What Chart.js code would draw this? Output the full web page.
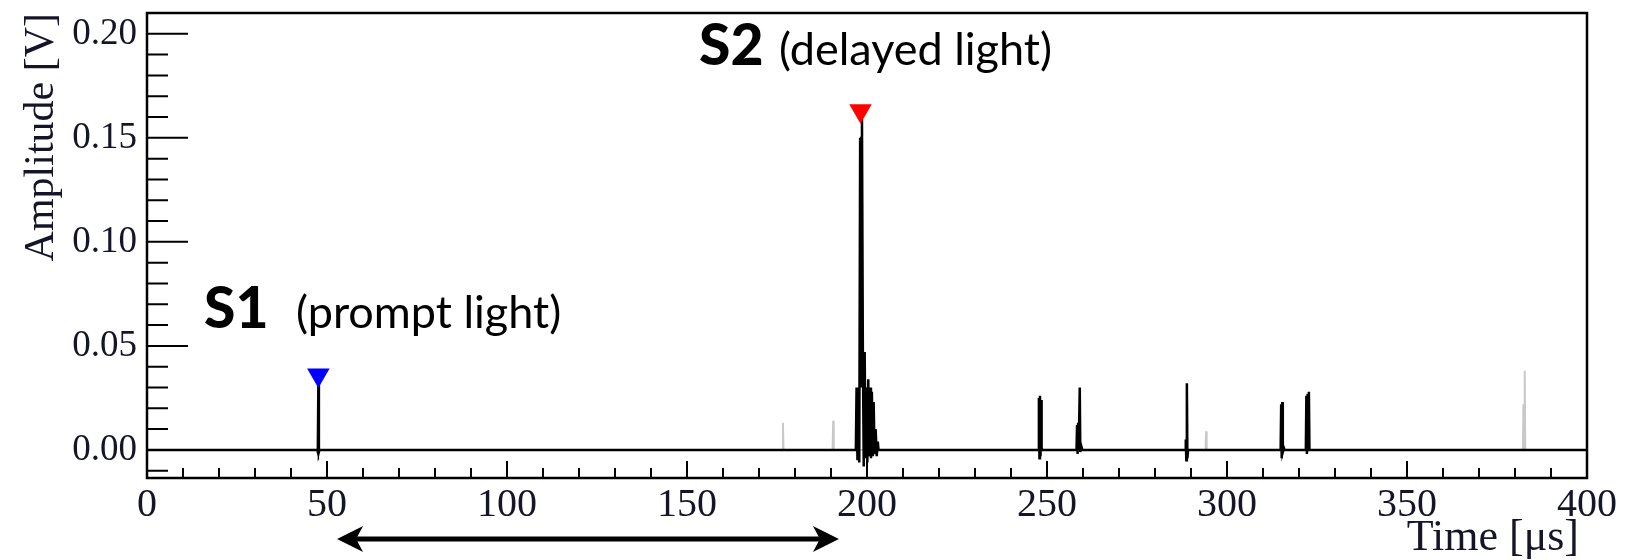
<!DOCTYPE html>
<html>
<head>
<meta charset="utf-8">
<script src="https://cdn.jsdelivr.net/npm/chart.js@4.4.1/dist/chart.umd.min.js"></script>
<style>
    html, body { margin: 0; padding: 0; background: #fff; }
</style>
</head>
<body>
<canvas id="chartPulso" width="1640" height="560"></canvas>
<script>
// Waveform (black): time in µs, amplitude in V
const tiempoNegro = [
    0,
    47.3, 47.45, 47.6, 47.75, 47.9,
    196.9, 197.1, 197.35, 197.6, 197.85, 198.1, 198.3, 198.45, 198.6, 198.85, 199.1, 199.35, 199.6,
    199.85, 200.1, 200.35, 200.6, 200.85, 201.1, 201.35, 201.6, 201.85, 202.1, 202.4, 202.7, 203.0, 203.2,
    247.6, 247.75, 247.9, 248.05, 248.2, 248.35, 248.5, 248.7,
    258.2, 258.35, 258.5, 258.65, 258.8, 259.1, 259.25, 259.5, 259.8,
    288.4, 288.55, 288.7, 288.85, 289.0, 289.2,
    314.9, 315.05, 315.2, 315.35, 315.5, 315.8, 316.0,
    321.9, 322.05, 322.2, 322.4, 322.6, 322.75, 322.9,
    400
];
const amplitudNegro = [
    0,
    0, -0.001, 0.032, -0.001, 0,
    0, 0.030, -0.005, 0.030, -0.006, 0.150, 0.030, 0.150, 0.159, 0.047, -0.008, 0.047, -0.004,
    0.030, -0.006, 0.034, -0.003, 0.030, -0.004, 0.028, -0.003, 0.023, -0.002, 0.010, -0.003, 0.004, 0,
    0, 0.025, -0.004, 0.026, -0.003, 0.024, 0.001, 0,
    0, 0.012, -0.002, 0.013, 0, 0.030, -0.001, 0.002, 0,
    0, 0.005, -0.005, 0.032, -0.004, 0,
    0, 0.022, -0.004, 0.023, -0.001, 0.001, 0,
    0, 0.026, -0.002, 0.027, 0, 0.028, 0,
    0
];

// Pulses outside the window (grey)
const tiempoGris = [176.5, 176.65, 176.8, 190.45, 190.6, 190.75, 294.05, 294.2, 294.35, 382.2, 382.35, 382.5, 382.7, 382.85];
const amplitudGris = [0, 0.013, 0, 0, 0.014, 0, 0, 0.009, 0, 0, 0.022, 0.001, 0.038, 0];

// S1 / S2 markers
const tiempoMarca = [47.6, 198.2];
const amplitudMarca = [0.036, 0.163];
const colorMarca = ['#0000ff', '#ff0000'];

// Axes
const rangoX = [0, 400];
const rangoY = [-0.0135, 0.21];
const pasoX = 10, mayorX = 50;
const pasoY = 0.01, mayorY = 0.05;

// Drift arrow (S1 -> S2), in µs
const flechaDesde = 52.8;
const flechaHasta = 192.2;

const esMayor = (v, m) => Math.abs(v / m - Math.round(v / m)) < 1e-6;
const aPuntos = (xs, ys) => xs.map((t, i) => ({ x: t, y: ys[i] }));

// Frame, inward ticks, S1/S2 labels, x title and the arrow
const marcoPlugin = {
    id: 'marcoPlugin',
    afterDraw(chart) {
        const { ctx, chartArea: a, scales: { x, y } } = chart;
        ctx.save();
        ctx.strokeStyle = '#000';
        ctx.lineWidth = 2;
        ctx.beginPath();
        x.ticks.forEach(t => {
            const px = x.getPixelForValue(t.value);
            const len = esMayor(t.value, mayorX) ? 17 : 10;
            ctx.moveTo(px, a.bottom);
            ctx.lineTo(px, a.bottom - len);
        });
        y.ticks.forEach(t => {
            const py = y.getPixelForValue(t.value);
            const len = esMayor(t.value, mayorY) ? 41 : 21;
            ctx.moveTo(a.left, py);
            ctx.lineTo(a.left + len, py);
        });
        ctx.stroke();
        ctx.lineWidth = 2.5;
        ctx.strokeRect(a.left, a.top, a.right - a.left, a.bottom - a.top);

        // x axis title
        ctx.fillStyle = '#15152a';
        ctx.textBaseline = 'alphabetic';
        ctx.textAlign = 'right';
        ctx.font = '44px "Liberation Serif"';
        ctx.fillText('Time [μs]', a.right - 8, 550);

        // S1 / S2 labels
        ctx.fillStyle = '#000';
        ctx.textAlign = 'left';
        ctx.font = '900 57px Lato';
        ctx.fillText('S1', 204, 328);
        ctx.fillText('S2', 699, 65);
        ctx.font = '45px Lato';
        ctx.fillText('(prompt light)', 296, 328);
        ctx.fillText('(delayed light)', 779, 65);

        // double arrow
        const x1 = x.getPixelForValue(flechaDesde);
        const x2 = x.getPixelForValue(flechaHasta);
        const ya = 539;
        ctx.lineWidth = 5;
        ctx.beginPath();
        ctx.moveTo(x1 + 15, ya);
        ctx.lineTo(x2 - 15, ya);
        ctx.stroke();
        [[x1, 1], [x2, -1]].forEach(([tip, d]) => {
            ctx.beginPath();
            ctx.moveTo(tip, ya);
            ctx.lineTo(tip + d * 26, ya - 13);
            ctx.lineTo(tip + d * 19, ya);
            ctx.lineTo(tip + d * 26, ya + 13);
            ctx.closePath();
            ctx.fill();
        });
        ctx.restore();
    }
};

new Chart(document.getElementById('chartPulso'), {
    type: 'scatter',
    data: {
        datasets: [
            {
                label: 'S1/S2',
                data: aPuntos(tiempoMarca, amplitudMarca),
                pointStyle: 'triangle',
                pointRotation: 180,
                pointRadius: 13,
                pointBackgroundColor: colorMarca,
                pointBorderWidth: 0,
                order: 0
            },
            {
                label: 'Waveform',
                data: aPuntos(tiempoNegro, amplitudNegro),
                showLine: true,
                borderColor: '#000',
                borderWidth: 2.5,
                pointRadius: 0,
                order: 1
            },
            {
                label: 'Outside',
                data: aPuntos(tiempoGris, amplitudGris),
                showLine: true,
                borderColor: '#c8c8c8',
                borderWidth: 2,
                pointRadius: 0,
                order: 2
            }
        ]
    },
    options: {
        responsive: false,
        animation: false,
        events: [],
        layout: { padding: { top: 13, right: 53, left: 0, bottom: 0 } },
        plugins: { legend: { display: false }, tooltip: { enabled: false } },
        scales: {
            x: {
                type: 'linear',
                min: rangoX[0],
                max: rangoX[1],
                afterFit: s => { s.height = 82; s.paddingLeft = 0; s.paddingRight = 0; },
                grid: { display: false, drawTicks: false },
                border: { display: false },
                ticks: {
                    stepSize: pasoX,
                    autoSkip: false,
                    maxRotation: 0,
                    padding: 3,
                    color: '#15152a',
                    font: { family: 'Liberation Serif', size: 40 },
                    callback: v => esMayor(v, mayorX) ? String(v) : ''
                }
            },
            y: {
                type: 'linear',
                min: rangoY[0],
                max: rangoY[1],
                afterFit: s => { s.width = 147; s.paddingTop = 0; s.paddingBottom = 0; },
                grid: { display: false, drawTicks: false },
                border: { display: false },
                ticks: {
                    stepSize: pasoY,
                    includeBounds: false,
                    autoSkip: false,
                    padding: 10,
                    color: '#15152a',
                    font: { family: 'Liberation Serif', size: 37 },
                    callback: v => esMayor(v, mayorY) ? v.toFixed(2) : ''
                },
                title: {
                    display: true,
                    text: 'Amplitude [V]',
                    align: 'end',
                    color: '#15152a',
                    font: { family: 'Liberation Serif', size: 42 },
                    padding: { top: 17, bottom: 0 }
                }
            }
        }
    },
    plugins: [marcoPlugin]
});
</script>
</body>
</html>
